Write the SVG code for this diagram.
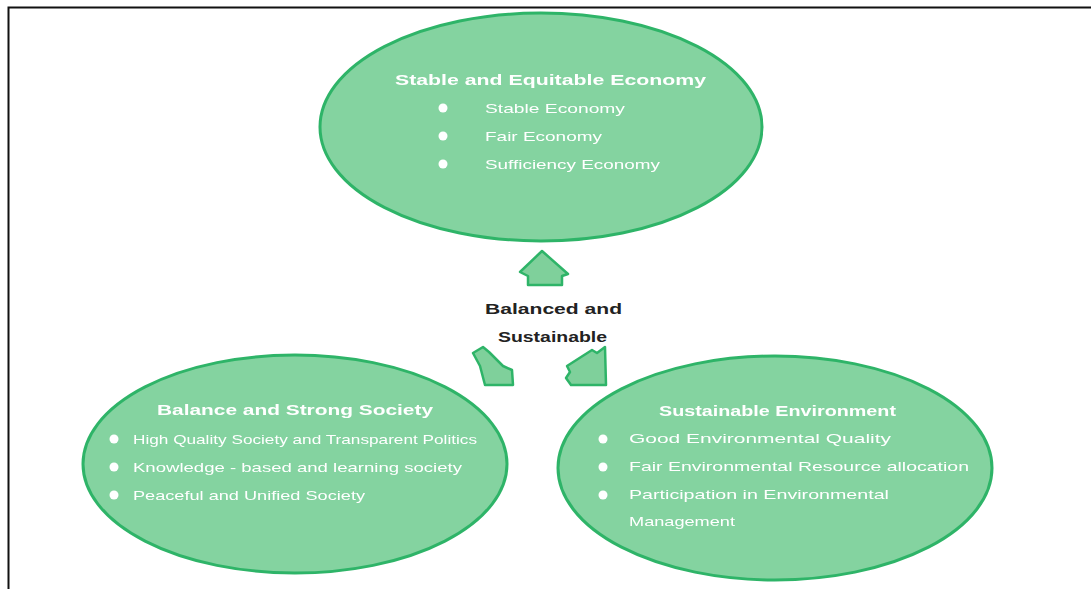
<svg xmlns="http://www.w3.org/2000/svg" width="1091" height="589" viewBox="0 0 1091 589">
<style>
.ell{fill:#84d3a0;stroke:#2fb468;stroke-width:3}
.arr{fill:#7fd09b;stroke:#2fb468;stroke-width:2.5;stroke-linejoin:round}
.t{font-family:"Liberation Sans",Arial,sans-serif;font-weight:bold;font-size:15px;fill:#ffffff}
.i{font-family:"Liberation Sans",Arial,sans-serif;font-size:13px;fill:#ffffff}
.c{font-family:"Liberation Sans",Arial,sans-serif;font-weight:bold;font-size:15px;fill:#222222}
.b{fill:#ffffff}
</style>
<defs>
<filter id="soft" x="-5%" y="-5%" width="110%" height="110%"><feGaussianBlur stdDeviation="0.6"/></filter>
</defs>
<rect width="1091" height="589" fill="#ffffff"/>
<path d="M8.5,589 V7.5 H1091" fill="none" stroke="#111111" stroke-width="2"/>

<g id="economy" filter="url(#soft)">
<ellipse class="ell" cx="541" cy="127" rx="221" ry="114"/>
<text class="t" x="395" y="85" textLength="311" lengthAdjust="spacingAndGlyphs">Stable and Equitable Economy</text>
<circle class="b" cx="443" cy="108" r="4.5"/>
<circle class="b" cx="443" cy="136" r="4.5"/>
<circle class="b" cx="443" cy="164" r="4.5"/>
<text class="i" x="485" y="112.5" textLength="140" lengthAdjust="spacingAndGlyphs">Stable Economy</text>
<text class="i" x="485" y="140.5" textLength="117" lengthAdjust="spacingAndGlyphs">Fair Economy</text>
<text class="i" x="485" y="168.5" textLength="175" lengthAdjust="spacingAndGlyphs">Sufficiency Economy</text>
</g>

<g id="society" filter="url(#soft)">
<ellipse class="ell" cx="295" cy="464" rx="212" ry="109"/>
<text class="t" x="157" y="415" textLength="276" lengthAdjust="spacingAndGlyphs">Balance and Strong Society</text>
<circle class="b" cx="114" cy="439" r="4.5"/>
<circle class="b" cx="114" cy="467" r="4.5"/>
<circle class="b" cx="114" cy="495" r="4.5"/>
<text class="i" x="133" y="443.5" textLength="344" lengthAdjust="spacingAndGlyphs">High Quality Society and Transparent Politics</text>
<text class="i" x="133" y="471.5" textLength="329" lengthAdjust="spacingAndGlyphs">Knowledge - based and learning society</text>
<text class="i" x="133" y="499.5" textLength="232" lengthAdjust="spacingAndGlyphs">Peaceful and Unified Society</text>
</g>

<g id="environment" filter="url(#soft)">
<ellipse class="ell" cx="775" cy="468" rx="217" ry="112"/>
<text class="t" x="659" y="416" textLength="237" lengthAdjust="spacingAndGlyphs">Sustainable Environment</text>
<circle class="b" cx="603" cy="439" r="4.5"/>
<circle class="b" cx="603" cy="467" r="4.5"/>
<circle class="b" cx="603" cy="495" r="4.5"/>
<text class="i" x="629" y="443" textLength="262" lengthAdjust="spacingAndGlyphs">Good  Environmental  Quality</text>
<text class="i" x="629" y="471" textLength="340" lengthAdjust="spacingAndGlyphs">Fair Environmental Resource allocation</text>
<text class="i" x="629" y="499" textLength="260" lengthAdjust="spacingAndGlyphs">Participation in Environmental</text>
<text class="i" x="629" y="526" textLength="106" lengthAdjust="spacingAndGlyphs">Management</text>
</g>

<g id="center">
<text class="c" x="485" y="314" textLength="137" lengthAdjust="spacingAndGlyphs">Balanced and</text>
<text class="c" x="498" y="342" textLength="109" lengthAdjust="spacingAndGlyphs">Sustainable</text>
</g>

<g id="connectors" filter="url(#soft)">
<polygon class="arr" points="542,251 568,274 562,276 562,285 528,285 528,276 520,272"/>
<polygon class="arr" points="473,353 483,347 489,352 503,366 512,370 513,385 485,385 480,366"/>
<polygon class="arr" points="567,366 592,350 597,353 605,347 606,385 571,385 566,378 570,372"/>
</g>
</svg>
